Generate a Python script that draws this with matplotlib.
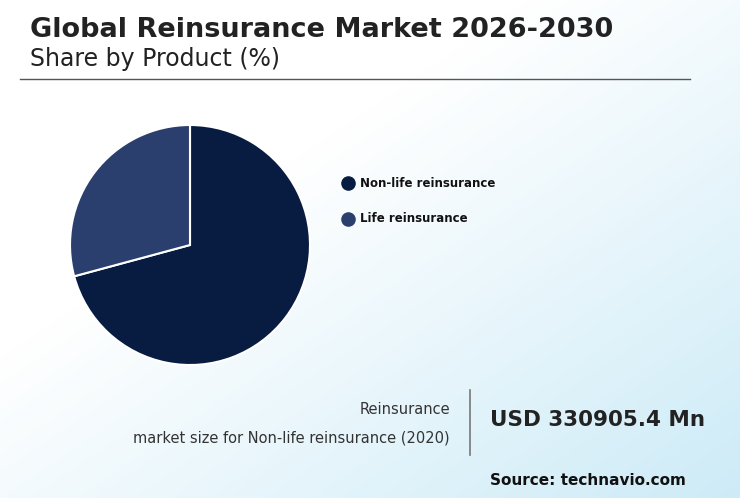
import numpy as np
import matplotlib.pyplot as plt

labels = ["Non-life reinsurance", "Life reinsurance"]
shares = [70.8, 29.2]
colors = ["#081c42", "#2b3f6e"]

fig = plt.figure(figsize=(7.4, 4.98), dpi=100)

# fond en degrade (blanc en haut a gauche, bleu clair en bas a droite)
bg = fig.add_axes([0, 0, 1, 1])
xx, yy = np.meshgrid(np.linspace(0, 1, 200), np.linspace(0, 1, 200))
grad = np.clip((xx * 0.7 + yy * 0.7) - 0.5, 0, 1) / 0.9
bg.imshow(grad, cmap=plt.matplotlib.colors.LinearSegmentedColormap.from_list(
    "bg", ["#ffffff", "#cdebf7"]), extent=[0, 1, 0, 1], aspect="auto", origin="upper")
bg.set_xlim(0, 1)
bg.set_ylim(0, 1)
bg.axis("off")

fig.text(30 / 740, 1 - 30 / 498, "Global Reinsurance Market 2026-2030", fontsize=19.5,
         fontweight="bold", color="#222222", va="center")
fig.text(30 / 740, 1 - 59 / 498, "Share by Product (%)", fontsize=17, color="#222222", va="center")
bg.plot([20 / 740, 690 / 740], [1 - 79 / 498] * 2, color="#555555", lw=1)

ax = fig.add_axes([70 / 740, 1 - 365 / 498, 240 / 740, 240 / 498])
ax.pie(shares, colors=colors, startangle=90, counterclock=False, radius=1,
       wedgeprops=dict(edgecolor="white", linewidth=1.5))
ax.set_xlim(-1.0, 1.0)
ax.set_ylim(-1.0, 1.0)
ax.set_aspect("equal")

for i, (lab, c) in enumerate(zip(labels, colors)):
    y = 1 - (183 + 36 * i) / 498
    bg.scatter([348 / 740], [y], s=90, color=c, zorder=3)
    bg.text(360 / 740, y, lab, fontsize=8.5, fontweight="bold", va="center", color="#111111")

fig.text(450 / 740, 1 - 409 / 498, "Reinsurance", fontsize=10.5, ha="right", va="center", color="#333333")
fig.text(450 / 740, 1 - 438 / 498, "market size for Non-life reinsurance (2020)", fontsize=10.5,
         ha="right", va="center", color="#333333")
bg.plot([470 / 740] * 2, [1 - 390 / 498, 1 - 455 / 498], color="#777777", lw=1.2)
fig.text(490 / 740, 1 - 420 / 498, "USD 330905.4 Mn", fontsize=15.5, fontweight="bold",
         va="center", color="#222222")
fig.text(490 / 740, 1 - 480 / 498, "Source: technavio.com", fontsize=11, fontweight="bold",
         va="center", color="#111111")

fig.savefig("out.png", dpi=100)
